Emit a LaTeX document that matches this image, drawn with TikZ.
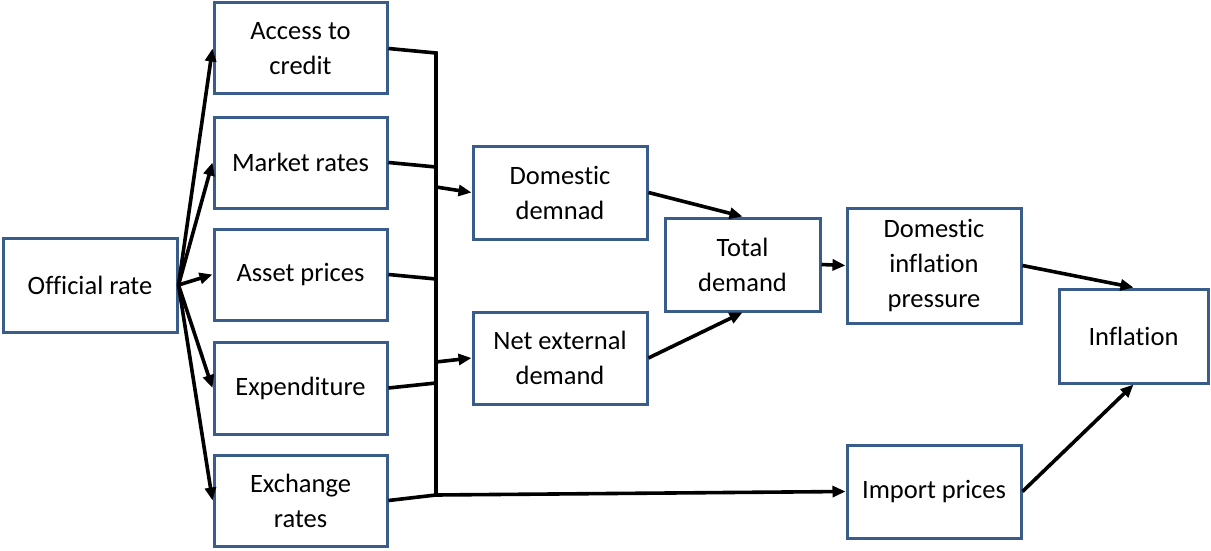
\documentclass[tikz,border=0pt]{standalone}
\usepackage{fontspec}
\setmainfont{Carlito}[Ligatures={NoCommon,NoRare}]
\usetikzlibrary{arrows.meta}
\definecolor{boxblue}{RGB}{56,93,138}
\begin{document}
\begin{tikzpicture}[x=1pt,y=-1pt,
  box/.style={draw=boxblue, line width=3pt, fill=white, inner sep=0pt,
    align=center, font=\fontsize{26.5}{35}\selectfont, text=black},
  conn/.style={draw=black, line width=3.6pt},
  arr/.style={conn, -{Triangle[length=13pt,width=11pt]}}]
\useasboundingbox (0,0) rectangle (1211,551);
% left column
\node[box, minimum width=174pt, minimum height=94pt] (off) at (90,285) {Official rate};
\node[box, minimum width=173pt, minimum height=91pt] (acc) at (300.5,48.5) {Access to\\credit};
\node[box, minimum width=173pt, minimum height=91pt] (mkt) at (300.5,162.5) {Market rates};
\node[box, minimum width=173pt, minimum height=91pt] (ast) at (300.5,274.5) {Asset prices};
\node[box, minimum width=173pt, minimum height=92pt] (exp) at (300.5,388) {Expenditure};
\node[box, minimum width=173pt, minimum height=91pt] (exc) at (300.5,500.5) {Exchange\\rates};
% middle
\node[box, minimum width=174pt, minimum height=93pt] (dom) at (560,192.5) {Domestic\\demnad};
\node[box, minimum width=174pt, minimum height=92pt] (net) at (560,358) {Net external\\demand};
\node[box, minimum width=155pt, minimum height=93pt] (tot) at (742.5,264.5) {Total\\demand};
\node[box, minimum width=174pt, minimum height=115pt] (dip) at (934,265.5) {Domestic\\inflation\\pressure};
\node[box, minimum width=174pt, minimum height=93pt] (imp) at (934,491.5) {Import prices};
\node[box, minimum width=149pt, minimum height=94pt] (inf) at (1133.5,336) {Inflation};
% bus coordinates
\coordinate (bt) at (436,53);
\coordinate (bm) at (436,167);
\coordinate (ba) at (436,279);
\coordinate (be) at (436,383);
\coordinate (bb) at (436,495);
\coordinate (bd) at (436,187);
\coordinate (bn) at (436,362);
% fan from official rate
\foreach \t in {acc,mkt,ast,exp,exc}
  \draw[arr] (off.east) -- (\t.west);
% bus
\draw[conn, line join=miter] (acc.east) -- (bt) -- (bb);
\draw[conn] (mkt.east) -- (bm);
\draw[conn] (ast.east) -- (ba);
\draw[conn] (exp.east) -- (be);
\draw[conn] (exc.east) -- (bb);
\draw[arr] (bd) -- (dom.west);
\draw[arr] (bn) -- (net.west);
\draw[arr] (bb) -- (imp.west);
% right part
\draw[arr] (dom.east) -- (tot.north);
\draw[arr] (net.east) -- (tot.south);
\draw[arr] (tot.east) -- (dip.west);
\draw[arr] (dip.east) -- (inf.north);
\draw[arr] (imp.east) -- (inf.south);
\end{tikzpicture}
\end{document}
